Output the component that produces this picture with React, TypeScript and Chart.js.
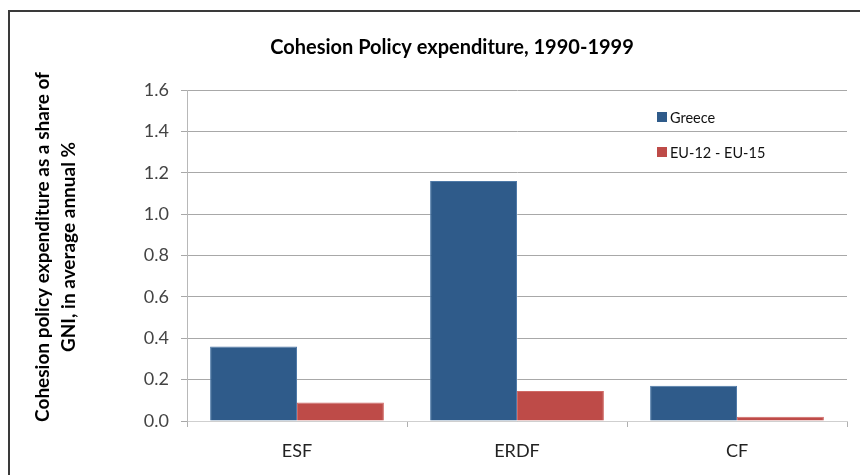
import React, { useEffect, useRef } from "react";
import { Chart, registerables } from "chart.js";

Chart.register(...registerables);

const categories = ["ESF", "ERDF", "CF"];
const greece = [0.36, 1.16, 0.17];
const eu = [0.09, 0.145, 0.02];
const seriesLabels = ["Greece", "EU-12 - EU-15"];
const chartTitle = "Cohesion Policy expenditure, 1990-1999";
const yTitle = ["Cohesion policy expenditure as a share of", "GNI, in average annual %"];

const FONT = "Lato, 'Open Sans', sans-serif";

const decor = {
  id: "decor",
  afterDraw(chart: any) {
    const ctx = chart.ctx;
    ctx.save();
    // frame
    ctx.strokeStyle = "#3a3a3a";
    ctx.lineWidth = 2;
    ctx.beginPath();
    ctx.moveTo(860, 11);
    ctx.lineTo(9, 11);
    ctx.lineTo(9, 475);
    ctx.stroke();
    // title
    ctx.fillStyle = "#000";
    ctx.font = `bold 20px ${FONT}`;
    ctx.textAlign = "center";
    ctx.textBaseline = "middle";
    ctx.fillText(chartTitle, 452, 48);
    // y title
    ctx.save();
    ctx.translate(43, 247);
    ctx.rotate(-Math.PI / 2);
    ctx.font = `bold 19px ${FONT}`;
    ctx.fillText(yTitle[0], 0, 0);
    ctx.fillText(yTitle[1], 0, 26);
    ctx.restore();
    // legend
    ctx.font = `14.5px ${FONT}`;
    ctx.textAlign = "left";
    chart.data.datasets.forEach((ds: any, i: number) => {
      const y = 117 + i * 35;
      ctx.fillStyle = ds.backgroundColor;
      ctx.fillRect(657, y - 5, 10, 10);
      ctx.fillStyle = "#111";
      ctx.fillText(ds.label, 670, y + 1);
    });
    ctx.restore();
  },
};

export default function App() {
  const ref = useRef<HTMLCanvasElement>(null);
  useEffect(() => {
    const chart = new Chart(ref.current!, {
      type: "bar",
      data: {
        labels: categories,
        datasets: [
          { label: seriesLabels[0], data: greece, backgroundColor: "#2F5B8A", borderColor: "#4F7AA8", borderWidth: 1 },
          { label: seriesLabels[1], data: eu, backgroundColor: "#BE4B48", borderColor: "#D06A66", borderWidth: 1 },
        ],
      },
      options: {
        responsive: false,
        animation: false,
        layout: { padding: { left: 0, top: 90, right: 13, bottom: 0 } },
        plugins: { legend: { display: false }, title: { display: false }, tooltip: { enabled: false } },
        datasets: { bar: { barPercentage: 1, categoryPercentage: 0.79 } },
        scales: {
          x: {
            afterFit(scale: any) { scale.height = 54; },
            grid: { offset: true, drawOnChartArea: false, drawTicks: true, tickLength: 6, color: "#b0b0b0" },
            border: { color: "#cfcfcf" },
            ticks: { padding: 13, color: "#222", font: { family: FONT, size: 18 } },
          },
          y: {
            min: 0,
            max: 1.6,
            afterFit(scale: any) { scale.width = 187; },
            ticks: {
              stepSize: 0.2,
              padding: 12,
              color: "#444",
              font: { family: FONT, size: 18 },
              callback: (v: any) => Number(v).toFixed(1),
            },
            grid: { color: "#a8a8a8", tickLength: 6, lineWidth: 1 },
            border: { color: "#b8b8b8" },
          },
        },
      },
      plugins: [decor],
    } as any);
    return () => chart.destroy();
  }, []);
  return (
    <div style={{ position: "absolute", left: 0, top: 0, width: 860, height: 475, background: "#fff" }}>
      <canvas ref={ref} width={860} height={475} />
    </div>
  );
}
